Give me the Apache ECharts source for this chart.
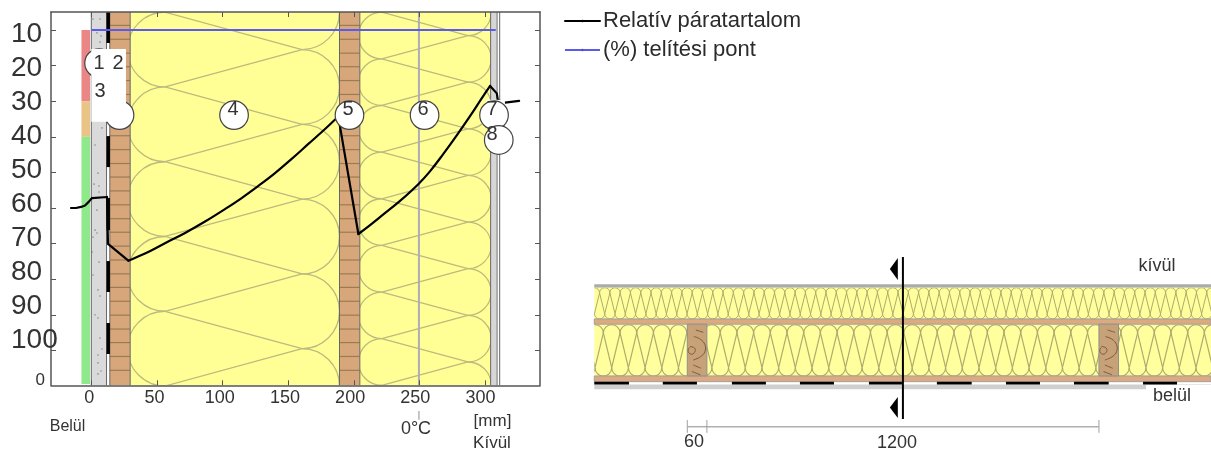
<!DOCTYPE html>
<html><head><meta charset="utf-8">
<style>html,body{margin:0;padding:0;background:#fff}#c{width:1211px;height:450px}</style>
<script src="https://cdn.jsdelivr.net/npm/echarts@6/dist/echarts.min.js"></script>
</head><body><div id="c"></div>
<script>
// ---- left diagram: humidity through the wall (x = mm, y = %)
const xTickValues = [0, 50, 100, 150, 200, 250, 300];
const yTickValues = [10, 20, 30, 40, 50, 60, 70, 80, 90, 100];
const humidityInside = [[-15.5,60],[-11.7,60],[-7.8,59.7],[-4.8,59.3],[-1.8,58.2],[0.5,57.2],[12,56.9],[12.7,70.1],[28.2,74.8]];
const humidityBatt1 = [[28.2,74.8],[40.9,72.8],[56.1,69.9],[71.4,67],[86.6,63.8],[101.8,60.3],[114.5,57.2],[127.2,53.8],[139.9,50.2],[152.6,46.2],[165.3,42],[178,37.8],[186.1,35],[188.6,34.2]];
const humidityBatten = [[188.6,34.2],[188.9,36],[203.4,67.3]];
const humidityBatt2 = [[203.4,67.3],[212.3,64.8],[222.4,61.8],[235.1,58],[249,53.3],[257.9,49.7],[268.1,44.8],[278.3,39.6],[288.4,34.2],[297.3,29.2],[303.7,25.7]];
const humidityOutside = [[303.7,25.7],[308.8,27.8],[309.6,29.7],[315.1,30.4],[325.8,29.9]];
const saturationCurve = [[0,10],[308,10]];
const zeroDegreeLine = [[249.5,4.94,109.8]];
const zeroDegreeTick = [[249.5,117,119.5]];
const redZone = [[-7.5,-1,10,30]];
const orangeZone = [[-7.5,-1,30,40]];
const greenZone = [[-7.5,-1,40,109.4]];
const concrete = [[0,11.5,4.94,109.8]];
const render = [[304.3,308.6,4.94,109.8]];
const layerEdges = [[309,4.94,109.8],[311,4.94,109.8],[304.1,4.94,109.8],[0,4.94,109.8],[11.6,4.94,109.8],[14.1,4.94,109.8],[29.6,4.94,109.8],[189,4.94,109.8],[204.5,4.94,109.8]];
const barrierBlack = [[11.6,14.2,4.94,13.65],[11.6,14.2,22.4,31.1],[11.6,14.2,39.8,48.5],[11.6,14.2,57.2,66.2],[11.6,14.2,74.9,83.6],[11.6,14.2,92.3,101]];
const battens = [[14.1,29.6,4.94,109.8],[189,204.5,4.94,109.8]];
const insulation = [[29.6,189,4.94,109.8],[204.5,304.1,4.94,109.8]];
const courses = [8.7,12.6,16.5,20.3,24.2,28.1,32,35.8,39.7,43.6,47.5,51.3,55.2,59.1,63,66.8,70.7,74.6,78.5,82.3,86.2,90.1,94,97.8,101.7,105.6];
const speckles = [[1.3,6.9],[6.6,6.9],[4.3,10.8],[7.4,11.7],[6.6,13.4],[8.1,37.5],[2.8,42.3],[5.1,50.2],[2.1,53.3],[5.9,53.8],[5.9,55.5],[4.3,60.6],[2.8,66.2],[4.3,67],[1.3,68.2],[0.5,72.4],[5.9,75.2],[1.3,78.8],[5.1,83],[6.6,84.7],[2.8,90],[5.1,90.9],[6.6,96.5],[8.1,99.6],[5.1,101.3],[5.1,103.5],[5.1,106.6],[7.4,105.8]];
const markerCircles = [[5.9,19.3],[21.5,33.9],[108.7,33.9],[196.6,33.9],[253.8,33.9],[306.7,33.9],[310.3,40.9]];
const labelBox = [[0,26.4,15.3,35.8]];
const labelBoxSeven = [[301,315,29.6,34]];
const markerLabels = [[5.9,19.3,'1'],[20.4,19.3,'2'],[6.6,27.2,'3'],[107.9,32.2,'4'],[195.5,32.2,'5'],[252.6,32.2,'6'],[305.2,32.2,'7'],[305.2,39.3,'8']];
// insulation hatch: [across A, across B, first crossing on A, pitch, count, clip from, clip to]
const hatchWall = [[56.1,160.5,5,21,7,29.6,189],[221.2,286.8,5,13.1,9,204.5,304.1]];
// ---- right diagram: horizontal section (mm along, mm through)
const sectionGrey = [[-284.7,1603,0,10.4]];
const sectionPlaster = [[-284.7,1404,307,321],[1404,1603,307,308.5]];
const sectionBoards = [[-284.7,1603,106,122],[-284.7,1603,280.5,298]];
const sectionBatts = [[-284.7,1603,10.4,106],[-284.7,1603,122,280.5]];
const sectionStuds = [[0,60,122,280.5],[1260,1320,122,280.5]];
const sectionBlack = [[-284.7,-178.5,298,307],[-75,29.5,298,307],[136.5,240.6,298,307],[344.8,448.9,298,307],[556,657,298,307],[764,870.5,298,307],[975.4,1079.5,298,307],[1183.7,1289.8,298,307],[1395,1499,298,307]];
const sectionRange = [-284.7, 1603];
const woodGrain = [[[26,140],[49,147]],[[20,160],[40,168],[54,185],[54,206],[40,222],[18,232]],[[8,190],[22,195],[24,205],[15,214],[5,210],[3,200],[8,193]],[[18,247],[42,257]],[[14,267],[40,277]]];
const hatchSection = [[26.2,90.2,-300,31.5,62,10.4,106],[149,255.3,-308,51.1,40,122,280.5]];
const cutLine = [[660,-83.6,660,412.3]];
const cutArrows = [[620,644.4,-80.5,-13.2],[620,644.4,345,409]];
const dimensionLine = [[0,60,435.9],[60,1260,435.9]];
const dimensionTicks = [[0,415.3,454.7],[60,415.3,454.7],[1260,415.3,454.7]];
const seriesNames = ['Relatív páratartalom', '(%) telítési pont'];

const WALL = {xAxisIndex:0, yAxisIndex:0};
const SECT = {xAxisIndex:2, yAxisIndex:2};
let zNext = 2;
const rects = (data, fill, axes, stroke) => ({type:'custom', ...axes, z:zNext++, silent:true, data,
  encode:{x:[0,1], y:[2,3]},
  renderItem:(p, api) => {
    const a = api.coord([api.value(0), api.value(2)]), b = api.coord([api.value(1), api.value(3)]);
    return {type:'rect', shape:{x:a[0], y:a[1], width:b[0]-a[0], height:b[1]-a[1]},
      style:{fill, stroke:stroke||null, lineWidth:stroke?1:0}};
  }});
const vLines = (data, stroke, lineWidth) => ({type:'custom', ...WALL, z:zNext++, silent:true, data,
  encode:{x:0, y:[1,2]},
  renderItem:(p, api) => {
    const a = api.coord([api.value(0), api.value(1)]), b = api.coord([api.value(0), api.value(2)]);
    return {type:'line', shape:{x1:a[0], y1:a[1], x2:b[0], y2:b[1]}, style:{stroke, lineWidth}};
  }});
// loops and slanted strands of the insulation symbol
const hatch = (data, axes, vertical, stroke, lineWidth) => ({type:'custom', ...axes, z:zNext++, silent:true, data,
  renderItem:(p, api) => {
    const A = api.value(0), B = api.value(1), s = api.value(2), d = api.value(3), n = api.value(4), c0 = api.value(5), c1 = api.value(6);
    const pt = (across, along) => vertical ? api.coord([along, across]) : api.coord([across, along]);
    const style = {stroke, lineWidth, fill:'none'};
    const children = [];
    for (let i = -1; i < n; i++) {
      const a0 = s + d*i, a1 = a0 + d, b0 = a0 + d/2, b1 = a1 + d/2;
      const pa0 = pt(A,a0), pa1 = pt(A,a1), pb0 = pt(B,b0), pb1 = pt(B,b1), pb_ = pt(B,a0 - d/2);
      const arc = (u, v, start, end) => ({type:'arc', shape:{cx:(u[0]+v[0])/2, cy:(u[1]+v[1])/2,
        r:Math.hypot(u[0]-v[0], u[1]-v[1])/2, startAngle:start, endAngle:end, clockwise:true}, style});
      children.push(vertical ? arc(pa0, pa1, Math.PI, 2*Math.PI) : arc(pa0, pa1, Math.PI/2, 3*Math.PI/2));
      children.push(vertical ? arc(pb0, pb1, 0, Math.PI) : arc(pb0, pb1, -Math.PI/2, Math.PI/2));
      children.push({type:'line', shape:{x1:pa0[0], y1:pa0[1], x2:pb0[0], y2:pb0[1]}, style});
      children.push({type:'line', shape:{x1:pa0[0], y1:pa0[1], x2:pb_[0], y2:pb_[1]}, style});
    }
    const tl = vertical ? api.coord([sectionRange[0], c0]) : api.coord([c0, 4.94]);
    const br = vertical ? api.coord([sectionRange[1], c1]) : api.coord([c1, 109.8]);
    return {type:'group', children,
      clipPath:{type:'rect', shape:{x:Math.min(tl[0],br[0]), y:Math.min(tl[1],br[1]), width:Math.abs(br[0]-tl[0]), height:Math.abs(br[1]-tl[1])}}};
  }});
const hSegs = (data, stroke, lineWidth) => ({type:'custom', ...SECT, z:zNext++, silent:true, data,
  renderItem:(p, api) => {
    const a = api.coord([api.value(0), api.value(2)]), b = api.coord([api.value(1), api.value(2)]);
    return {type:'line', shape:{x1:a[0], y1:a[1], x2:b[0], y2:b[1]}, style:{stroke, lineWidth}};
  }});
const humidityLine = (data, smooth) => ({type:'line', name:seriesNames[0], ...WALL, z:zNext, data, smooth, symbol:'none',
  lineStyle:{color:'#000', width:2.2, cap:'round', join:'round'}, itemStyle:{color:'#000'}, clip:false, silent:true});

const series = [];
// wall
series.push(rects(redZone, '#ea8686', WALL), rects(orangeZone, '#e9c486', WALL), rects(greenZone, '#8fe98a', WALL));
series.push(rects(concrete, '#dadada', WALL), rects(render, '#d6d6d6', WALL));
series.push({type:'scatter', ...WALL, z:zNext++, silent:true, data:speckles, symbol:'rect', symbolSize:1.6, itemStyle:{color:'#a0a0a0', opacity:1}});
series.push(rects(battens, '#d7a77b', WALL));
series.push({type:'custom', ...WALL, z:zNext++, silent:true, data:courses.map(v=>[v]), encode:{y:0},
  renderItem:(p, api) => ({type:'group', children:battens.map(b=>{
    const a = api.coord([b[0], api.value(0)]), c = api.coord([b[1], api.value(0)]);
    return {type:'line', shape:{x1:a[0], y1:a[1], x2:c[0], y2:c[1]}, style:{stroke:'#9b7c50', lineWidth:1.2}};
  })})});
series.push(rects(insulation, '#ffff96', WALL));
series.push(hatch(hatchWall, WALL, false, '#bcba7e', 1.3));
series.push(vLines(layerEdges, '#666666', 1));
series.push(rects(barrierBlack, '#000000', WALL));
series.push(vLines(zeroDegreeLine, '#adadb8', 2));
series.push(vLines(zeroDegreeTick, '#b5b5b5', 1.5));
series.push({type:'line', name:seriesNames[1], ...WALL, z:zNext++, data:saturationCurve, symbol:'none', lineStyle:{color:'#5a5aee', width:2}, itemStyle:{color:'#4a4aee'}, clip:false, silent:true});
series.push(humidityLine(humidityInside, false), humidityLine(humidityBatt1, 0.4), humidityLine(humidityBatten, false), humidityLine(humidityBatt2, 0.4), humidityLine(humidityOutside, false));
zNext++;
series.push(rects(labelBoxSeven, '#ffffff', WALL));
series.push({type:'scatter', ...WALL, z:zNext++, silent:true, data:markerCircles, symbol:'circle', symbolSize:28.6, itemStyle:{color:'#fff', borderColor:'#444', borderWidth:1.2, opacity:1}, clip:false});
series.push(rects(labelBox, '#ffffff', WALL));
series.push({type:'custom', ...WALL, z:zNext++, silent:true, data:markerLabels, encode:{x:0,y:1},
  renderItem:(p, api) => {
    const c = api.coord([api.value(0), api.value(1)]);
    return {type:'text', style:{x:c[0], y:c[1], text:String(markerLabels[p.dataIndex][2]), fill:'#333', font:'20px "Liberation Sans", Arial, sans-serif', textAlign:'center', textVerticalAlign:'middle'}};
  }});
// section
series.push(rects(sectionGrey, '#ababab', SECT));
series.push(rects(sectionBatts, '#ffff9e', SECT));
series.push(hatch([hatchSection[0]], SECT, true, '#aeac6c', 1));
series.push(hatch([hatchSection[1]], SECT, true, '#aeac6c', 1.2));
series.push(rects(sectionBoards, '#dcaa7e', SECT, '#a0a0a0'));
series.push(rects(sectionPlaster, '#cfcfcf', SECT));
series.push(rects(sectionBlack, '#000000', SECT));
series.push(rects(sectionStuds, '#c7a279', SECT, '#8f8f8f'));
series.push({type:'custom', ...SECT, z:zNext++, silent:true, data:[0,1260].map(v=>[v]),
  renderItem:(p, api) => ({type:'group', children:woodGrain.map(g=>({type:'polyline',
    shape:{points:g.map(q=>api.coord([api.value(0)+q[0], q[1]])), smooth:0.4},
    style:{stroke:'#7b5a3a', lineWidth:1, fill:'none'}}))})});
series.push(hSegs(dimensionLine, '#b0b0b0', 1.5));
series.push({type:'custom', ...SECT, z:zNext++, silent:true, data:dimensionTicks,
  renderItem:(p, api) => {
    const a = api.coord([api.value(0), api.value(1)]), b = api.coord([api.value(0), api.value(2)]);
    return {type:'line', shape:{x1:a[0], y1:a[1], x2:b[0], y2:b[1]}, style:{stroke:'#a0a0a0', lineWidth:1}};
  }});
series.push({type:'custom', ...SECT, z:zNext++, silent:true, data:cutLine,
  renderItem:(p, api) => {
    const a = api.coord([api.value(0), api.value(1)]), b = api.coord([api.value(2), api.value(3)]);
    return {type:'line', shape:{x1:a[0], y1:a[1], x2:b[0], y2:b[1]}, style:{stroke:'#000', lineWidth:2}};
  }});
series.push({type:'custom', ...SECT, z:zNext++, silent:true, data:cutArrows,
  renderItem:(p, api) => {
    const tip = api.coord([api.value(0), (api.value(2)+api.value(3))/2]), t = api.coord([api.value(1), api.value(2)]), b = api.coord([api.value(1), api.value(3)]);
    return {type:'polygon', shape:{points:[tip, t, b]}, style:{fill:'#000'}};
  }});

const font = '"Liberation Sans", Arial, sans-serif';
const label = (text, x, y, size, fill) => ({type:'text', z:100, x, y, style:{text, fill:fill||'#333', font:size+'px '+font, textAlign:'center', textVerticalAlign:'middle'}});
const axisLineColor = '#555';
const option = {
  animation:false,
  backgroundColor:'#fff',
  textStyle:{fontFamily:font},
  legend:{data:seriesNames, orient:'vertical', left:559, top:5, itemWidth:35, itemHeight:3, itemGap:7,
    textStyle:{fontSize:22, color:'#2b2b2b', padding:[0,0,0,-2], fontFamily:font}, selectedMode:false},
  grid:[
    {left:51, top:12, width:489, height:373.3},
    {left:51, top:12, width:489, height:373.3},
    {left:580, top:250, width:631, height:200}
  ],
  xAxis:[
    {type:'value', gridIndex:0, min:-30.7, max:341.7, position:'bottom', z:20, splitLine:{show:false},
      axisLine:{onZero:false, lineStyle:{color:axisLineColor, width:1.5}},
      axisTick:{inside:true, length:5, customValues:xTickValues, lineStyle:{color:axisLineColor, width:1}}, axisLabel:{show:false}},
    {type:'value', gridIndex:1, min:-29.4, max:345.6, position:'bottom', z:20, splitLine:{show:false},
      axisLine:{show:false}, axisTick:{show:false},
      axisLabel:{customValues:xTickValues, color:'#333', fontSize:18, margin:4, fontFamily:font}},
    {type:'value', gridIndex:2, min:-328.4, max:1603, show:false},
    {type:'value', gridIndex:0, min:-30.7, max:341.7, position:'top', z:20, splitLine:{show:false},
      axisLine:{onZero:false, lineStyle:{color:axisLineColor, width:1.5}},
      axisTick:{inside:true, length:5, customValues:xTickValues, lineStyle:{color:axisLineColor, width:1}}, axisLabel:{show:false}}
  ],
  yAxis:[
    {type:'value', gridIndex:0, inverse:true, min:4.94, max:109.8, position:'left', z:20, splitLine:{show:false},
      axisLine:{onZero:false, lineStyle:{color:axisLineColor, width:1.5}},
      axisTick:{inside:true, length:5, customValues:yTickValues, lineStyle:{color:axisLineColor, width:1}},
      axisLabel:{customValues:[108.4], formatter:()=>'0', color:'#333', fontSize:17, margin:6, fontFamily:font}},
    {type:'value', gridIndex:1, inverse:true, min:3.37, max:113.15, position:'left', z:21, splitLine:{show:false},
      axisLine:{show:false}, axisTick:{show:false},
      axisLabel:{customValues:yTickValues, color:'#333', fontSize:28, margin:40, align:'left', fontFamily:font}},
    {type:'value', gridIndex:2, inverse:true, min:-105, max:507.2, show:false},
    {type:'value', gridIndex:0, inverse:true, min:4.94, max:109.8, position:'right', z:20, splitLine:{show:false},
      axisLine:{onZero:false, lineStyle:{color:axisLineColor, width:1.5}},
      axisTick:{inside:true, length:5, customValues:yTickValues, lineStyle:{color:axisLineColor, width:1}}, axisLabel:{show:false}}
  ],
  graphic:{elements:[
    label('Belül', 67.5, 427, 16),
    label('0°C', 416, 429, 18),
    label('[mm]', 492.5, 421, 17),
    label('Kívül', 492, 443, 17),
    label('kívül', 1157, 266, 18),
    label('belül', 1172, 396, 18),
    label('60', 694, 442, 18),
    label('1200', 897, 443, 18)
  ]},
  series
};
const chart = echarts.init(document.getElementById('c'), null, {renderer:'canvas', width:1211, height:450});
chart.setOption(option);
</script></body></html>
